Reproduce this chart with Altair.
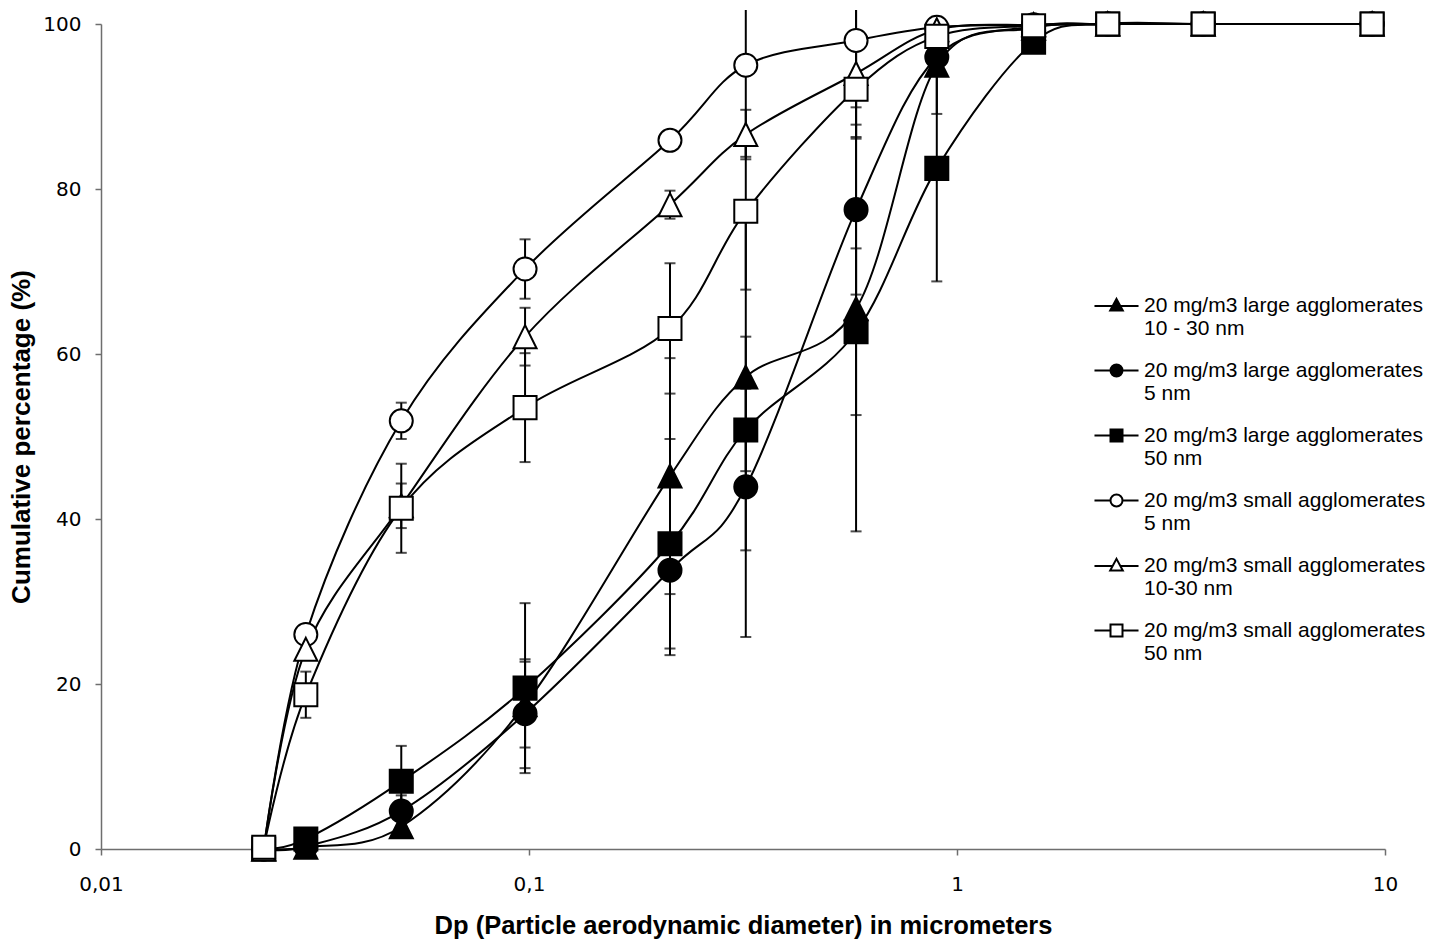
import altair as alt
import pandas as pd

# ---- data ----
dp_um = [0.024, 0.0301, 0.0503, 0.0979, 0.2135, 0.321, 0.581, 0.897, 1.51, 2.25, 3.76, 9.33]

series_names = [
    "20 mg/m3 large agglomerates 10 - 30 nm",
    "20 mg/m3 large agglomerates 5 nm",
    "20 mg/m3 large agglomerates 50 nm",
    "20 mg/m3 small agglomerates 5 nm",
    "20 mg/m3 small agglomerates 10-30 nm",
    "20 mg/m3 small agglomerates 50 nm",
]

large_10_30 = [0.0, 0.2, 2.7, 17.5, 45.2, 57.2, 65.5, 95.0, 99.5, 100, 100, 100]
large_5 = [0.0, 0.3, 4.6, 16.4, 33.8, 43.9, 77.5, 96.0, 99.7, 100, 100, 100]
large_50 = [0.0, 1.2, 8.2, 19.5, 37.0, 50.8, 62.7, 82.5, 97.8, 100, 100, 100]
small_5 = [0.0, 26.0, 51.9, 70.3, 85.9, 95.0, 98.0, 99.6, 99.9, 100, 100, 100]
small_10_30 = [0.0, 24.2, 41.6, 62.1, 78.1, 86.6, 94.0, 99.3, 99.9, 100, 100, 100]
small_50 = [0.2, 18.7, 41.3, 53.5, 63.1, 77.3, 92.1, 98.5, 99.8, 100, 100, 100]

# error bar half-widths (None = no bar)
err_large_10_30 = [None, None, None, 5.2, 14.3, 21.0, 27.0, 5.9, None, None, None, None]
err_large_5 = [None, None, 1.9, 6.6, 10.3, 18.2, 10.3, None, None, None, None, None]
err_large_50 = [None, None, 4.3, 10.3, 12.7, 5.0, 10.1, 13.7, None, None, None, None]
err_small_5 = [None, None, 2.2, 3.6, None, 11.1, 8.1, None, None, None, None, None]
err_small_10_30 = [None, None, 2.7, 3.5, 1.7, 3.0, 7.9, None, None, None, None, None]
err_small_50 = [None, 2.8, 5.4, 6.6, 7.9, 9.5, 5.8, None, None, None, None, None]

values = [large_10_30, large_5, large_50, small_5, small_10_30, small_50]
errors = [err_large_10_30, err_large_5, err_large_50, err_small_5, err_small_10_30, err_small_50]

rows, err_rows = [], []
for k, (name, vals, errs) in enumerate(zip(series_names, values, errors)):
    for x, v, e in zip(dp_um, vals, errs):
        rows.append({"series": name, "k": k, "dp": x, "pct": v})
        if e is not None:
            err_rows.append({"series": name, "k": k, "dp": x, "lo": v - e, "hi": v + e})
df = pd.DataFrame(rows)
df_err = pd.DataFrame(err_rows)

BLACK, WHITE = "#000000", "#ffffff"
fill_range = [BLACK, BLACK, BLACK, WHITE, WHITE, WHITE]
stroke_range = [BLACK] * 6
tri = "M0,-1L1,1L-1,1Z"
shape_range = [tri, "circle", "square", "circle", tri, "square"]

# legend symbols: line + marker
leg_tri = "M-3.67,0.1H-0.62M0.62,0.1H3.67M0,-1.1L1.05,0.85L-1.05,0.85Z"
leg_circ = "M-3.67,0H-1M1,0H3.67M1,0A1,1 0 1,1 -1,0A1,1 0 1,1 1,0Z"
leg_sq = "M-3.67,0H-1M1,0H3.67M-1,-1H1V1H-1Z"
leg_shape_range = [leg_tri, leg_circ, leg_sq, leg_circ, leg_tri, leg_sq]

x_enc = alt.X(
    "dp:Q",
    scale=alt.Scale(type="log", domain=[0.01, 10]),
    axis=alt.Axis(
        values=[0.01, 0.1, 1, 10],
        labelExpr="replace(toString(datum.value), '.', ',')",
        title="Dp (Particle aerodynamic diameter) in micrometers",
    ),
)
y_scale = alt.Scale(domain=[0, 100], nice=False, zero=True)
y_enc = alt.Y(
    "pct:Q",
    scale=y_scale,
    axis=alt.Axis(values=[0, 20, 40, 60, 80, 100], title="Cumulative percentage (%)"),
)

base = alt.Chart(df)

lines = base.mark_line(interpolate="cardinal", color="black", strokeWidth=2).encode(
    x=x_enc, y=y_enc, detail="series:N"
)

err_base = alt.Chart(df_err).transform_calculate(hi_draw="min(datum.hi, 101.7)")
bars = err_base.mark_rule(color="black", strokeWidth=2).encode(
    x=alt.X("dp:Q"), y=alt.Y("lo:Q"), y2="hi_draw:Q"
)
caps = (
    err_base.transform_fold(["lo", "hi"], as_=["end", "cap"])
    .transform_filter("datum.cap <= 101.5")
    .mark_tick(orient="horizontal", size=11, thickness=2, color="black")
    .encode(x=alt.X("dp:Q"), y=alt.Y("cap:Q"))
)

points = base.mark_point(filled=True, size=530, stroke="black", strokeWidth=2, opacity=1).encode(
    x=x_enc,
    y=y_enc,
    shape=alt.Shape("series:N", scale=alt.Scale(domain=series_names, range=shape_range), legend=None),
    fill=alt.Fill("series:N", scale=alt.Scale(domain=series_names, range=fill_range), legend=None),
    order=alt.Order("k:Q"),
)

legend = alt.Legend(
    title=None,
    orient="none",
    legendX=1005,
    legendY=271,
    symbolSize=144,
    symbolStrokeWidth=2,
    symbolStrokeColor="black",
    labelFont="Liberation Sans",
    labelFontSize=21,
    labelColor="black",
    labelLimit=600,
    labelOffset=17,
    labelBaseline="middle",
    rowPadding=20,
    padding=0,
    labelExpr="[slice(datum.label, 0, indexof(datum.label, 'agglomerates') + 12), "
    "slice(datum.label, indexof(datum.label, 'agglomerates') + 13)]",
)

legend_layer = (
    base.transform_filter("datum.k < 0")
    .mark_point(filled=False, strokeWidth=2, opacity=1)
    .encode(
        x=x_enc,
        y=y_enc,
        shape=alt.Shape("series:N", scale=alt.Scale(domain=series_names, range=leg_shape_range), legend=legend),
        fill=alt.Fill("series:N", scale=alt.Scale(domain=series_names, range=fill_range), legend=legend),
        stroke=alt.Stroke("series:N", scale=alt.Scale(domain=series_names, range=stroke_range), legend=legend),
    )
)

chart = (
    alt.layer(lines, bars, caps, points, legend_layer)
    .resolve_scale(shape="independent", fill="independent", stroke="independent")
    .properties(
        width=1284,
        height=825,
        autosize=alt.AutoSizeParams(type="none"),
        padding={"left": 101, "top": 24, "right": 61, "bottom": 96},
        background="white",
    )
    .configure_view(stroke=None)
    .configure_axis(
        grid=False,
        domainColor="#6e6e6e",
        domainWidth=1.5,
        tickColor="#6e6e6e",
        tickWidth=1.5,
        tickSize=6,
        labelFont="DejaVu Sans",
        labelFontSize=20,
        labelColor="black",
        labelFlush=False,
        titleFont="Liberation Sans",
        titleFontWeight="bold",
        titleColor="black",
    )
    .configure_axisX(labelPadding=19, titleFontSize=25.5, titlePadding=19)
    .configure_axisY(labelPadding=14, titleFontSize=26, titlePadding=8)
)

chart.save("out.html", embed_options={"renderer": "svg", "actions": False})
